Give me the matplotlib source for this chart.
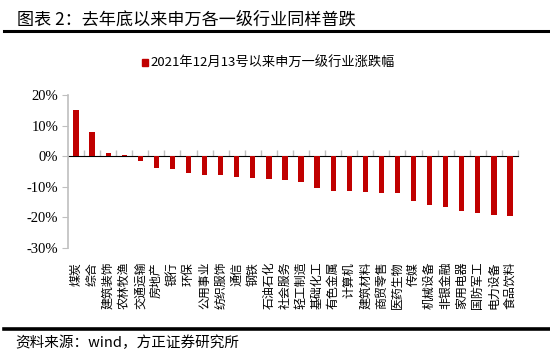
import matplotlib
matplotlib.use("Agg")
import matplotlib.pyplot as plt
from matplotlib.lines import Line2D
from matplotlib.patches import Rectangle
import numpy as np

plt.rcParams['font.family'] = ['Noto Sans CJK SC', 'DejaVu Sans']

# 申万一级行业，2021-12-13 以来涨跌幅 (%)
industries = ['煤炭', '综合', '建筑装饰', '农林牧渔', '交通运输', '房地产', '银行', '环保',
              '公用事业', '纺织服饰', '通信', '钢铁', '石油石化', '社会服务', '轻工制造',
              '基础化工', '有色金属', '计算机', '建筑材料', '商贸零售', '医药生物', '传媒',
              '机械设备', '非银金融', '家用电器', '国防军工', '电力设备', '食品饮料']
change = [15.0, 8.0, 0.9, 0.5, -1.5, -3.7, -4.3, -5.5, -6.0, -6.3, -6.9, -7.0, -7.5, -7.7,
          -8.5, -10.4, -11.4, -11.5, -11.8, -12.1, -12.1, -14.5, -15.8, -16.6, -17.9,
          -18.7, -19.3, -19.4]
yticks = [20, 10, 0, -10, -20, -30]

title = '图表 2：去年底以来申万各一级行业同样普跌'
legend_label = '2021年12月13号以来申万一级行业涨跌幅'
source = '资料来源：wind，方正证券研究所'

red = '#C00000'
gray = '#BFBFBF'

fig = plt.figure(figsize=(5.5, 3.6), dpi=100)
ax = fig.add_axes([68/550, 1 - 248/360, 450/550, 153/360])

x = np.arange(len(industries))
ax.bar(x, change, width=0.33, color=red)
ax.set_xlim(-0.5, len(industries) - 0.5)
ax.set_ylim(-30, 20)

ax.set_yticks(yticks)
ax.set_yticklabels([f'{v}%' for v in yticks])
ax.tick_params(axis='y', direction='out', length=4, color=gray, pad=3)
for lab in ax.get_yticklabels():
    lab.set_fontfamily('Liberation Serif')
    lab.set_fontsize(10.5)

ax.set_xticks(x)
ax.set_xticklabels(industries, rotation=90, fontsize=8.6, va='top', ha='center')
ax.tick_params(axis='x', length=0, pad=10)

for s in ['top', 'right', 'bottom']:
    ax.spines[s].set_visible(False)
ax.spines['left'].set_color(gray)
ax.spines['left'].set_linewidth(1.2)

# zero line with category boundary ticks
zero_pos = (0 - (-30)) / 50
sec = ax.secondary_xaxis(zero_pos)
sec.set_xticks(np.arange(len(industries)) + 0.5)
sec.set_xticklabels([])
sec.tick_params(axis='x', direction='out', length=4, color=gray, width=1)
sec.spines['bottom'].set_color(gray)
sec.spines['bottom'].set_linewidth(1.5)

# title and rules
fig.text(17/550, 1 - 20/360, title, fontsize=12.3, va='center', ha='left')
fig.add_artist(Line2D([4/550, 1], [1 - 31/360, 1 - 31/360], color='black', lw=2.2))
fig.add_artist(Line2D([4/550, 1], [1 - 329/360, 1 - 329/360], color='black', lw=2.6))
fig.text(15/550, 1 - 343/360, source, fontsize=10.5, va='center', ha='left', style='italic')

# legend
fig.add_artist(Rectangle((142/550, 1 - 66/360), 6/550, 7/360, color=red))
fig.text(150/550, 1 - 62/360, legend_label, fontsize=9.5, va='center', ha='left')

fig.savefig('out.png', dpi=100)
